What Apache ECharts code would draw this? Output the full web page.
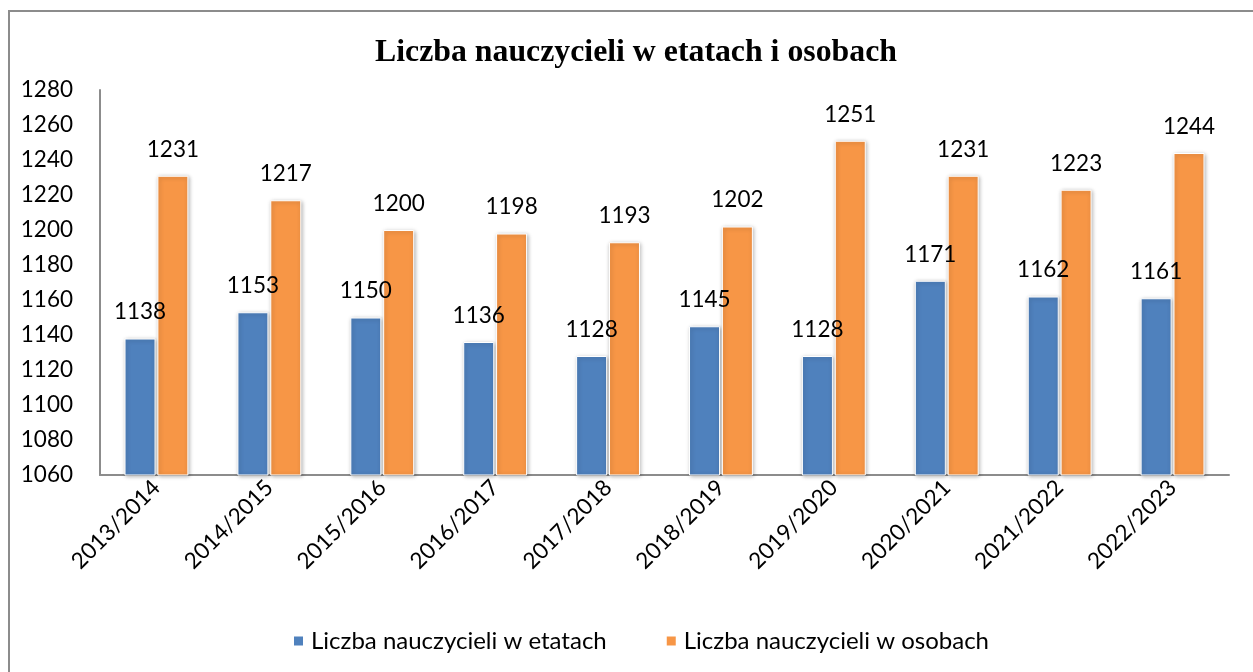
<!DOCTYPE html>
<html>
<head>
<meta charset="utf-8">
<script src="https://cdn.jsdelivr.net/npm/echarts@6/dist/echarts.min.js"></script>
<style>
  html, body { margin: 0; padding: 0; background: #fff; }
  #main { width: 1253px; height: 672px; }
</style>
</head>
<body>
<div id="main"></div>
<script>
const years = ['2013/2014', '2014/2015', '2015/2016', '2016/2017', '2017/2018',
  '2018/2019', '2019/2020', '2020/2021', '2021/2022', '2022/2023']
const etaty = [1138, 1153, 1150, 1136, 1128, 1145, 1128, 1171, 1162, 1161]
const osoby = [1231, 1217, 1200, 1198, 1193, 1202, 1251, 1231, 1223, 1244]
const yMin = 1060
const yMax = 1280
const yStep = 20

const font = 'Lato, "Open Sans", sans-serif'

let chart = echarts.init(document.getElementById('main'))

// wspolny styl slupkow
const barStyle = (color) => ({
  color: color,
  borderColor: '#fff',
  borderWidth: 1,
  shadowBlur: 4,
  shadowColor: 'rgba(0,0,0,0.3)',
  shadowOffsetX: 1,
  shadowOffsetY: 1,
})

const valueLabel = {
  show: true,
  position: 'top',
  distance: 15,
  fontFamily: font,
  fontSize: 22.5,
  color: '#000',
}

chart.setOption({
  animation: false,
  title: {
    text: 'Liczba nauczycieli w etatach i osobach',
    left: 370,
    top: 32,
    textStyle: {
      fontFamily: '"Liberation Serif", serif',
      fontWeight: 'bold',
      fontSize: 31.8,
      color: '#000',
    },
  },
  graphic: [
    {
      type: 'rect',
      shape: { x: 9, y: 11, width: 1300, height: 700 },
      style: { fill: 'none', stroke: '#8c8c8c', lineWidth: 2 },
      silent: true,
    },
  ],
  legend: {
    left: 287,
    top: 624,
    itemWidth: 11,
    itemHeight: 11,
    itemGap: 58,
    icon: 'rect',
    textStyle: { fontFamily: font, fontSize: 24, color: '#000', padding: [0, 0, 0, 2] },
  },
  grid: { left: 100, right: 24, top: 90, bottom: 197 },
  xAxis: {
    type: 'category',
    data: years,
    axisLine: { show: true, lineStyle: { color: '#8c8c8c', width: 2 } },
    axisTick: { show: false },
    axisLabel: {
      rotate: 45,
      margin: 9,
      interval: 0,
      fontFamily: font,
      fontSize: 22.5,
      color: '#000',
    },
  },
  yAxis: {
    type: 'value',
    min: yMin,
    max: yMax,
    interval: yStep,
    axisLine: { show: true, lineStyle: { color: '#8c8c8c', width: 2 } },
    axisTick: { show: false },
    splitLine: { show: false },
    axisLabel: {
      margin: 27,
      formatter: (v) => String(v),
      fontFamily: font,
      fontSize: 22.5,
      color: '#000',
    },
  },
  series: [
    {
      name: 'Liczba nauczycieli w etatach',
      type: 'bar',
      data: etaty,
      barWidth: 31,
      barGap: '6%',
      itemStyle: barStyle('#4f81bd'),
      label: valueLabel,
    },
    {
      name: 'Liczba nauczycieli w osobach',
      type: 'bar',
      data: osoby,
      barWidth: 31,
      itemStyle: barStyle('#f79646'),
      label: valueLabel,
    },
  ],
})
</script>
</body>
</html>
